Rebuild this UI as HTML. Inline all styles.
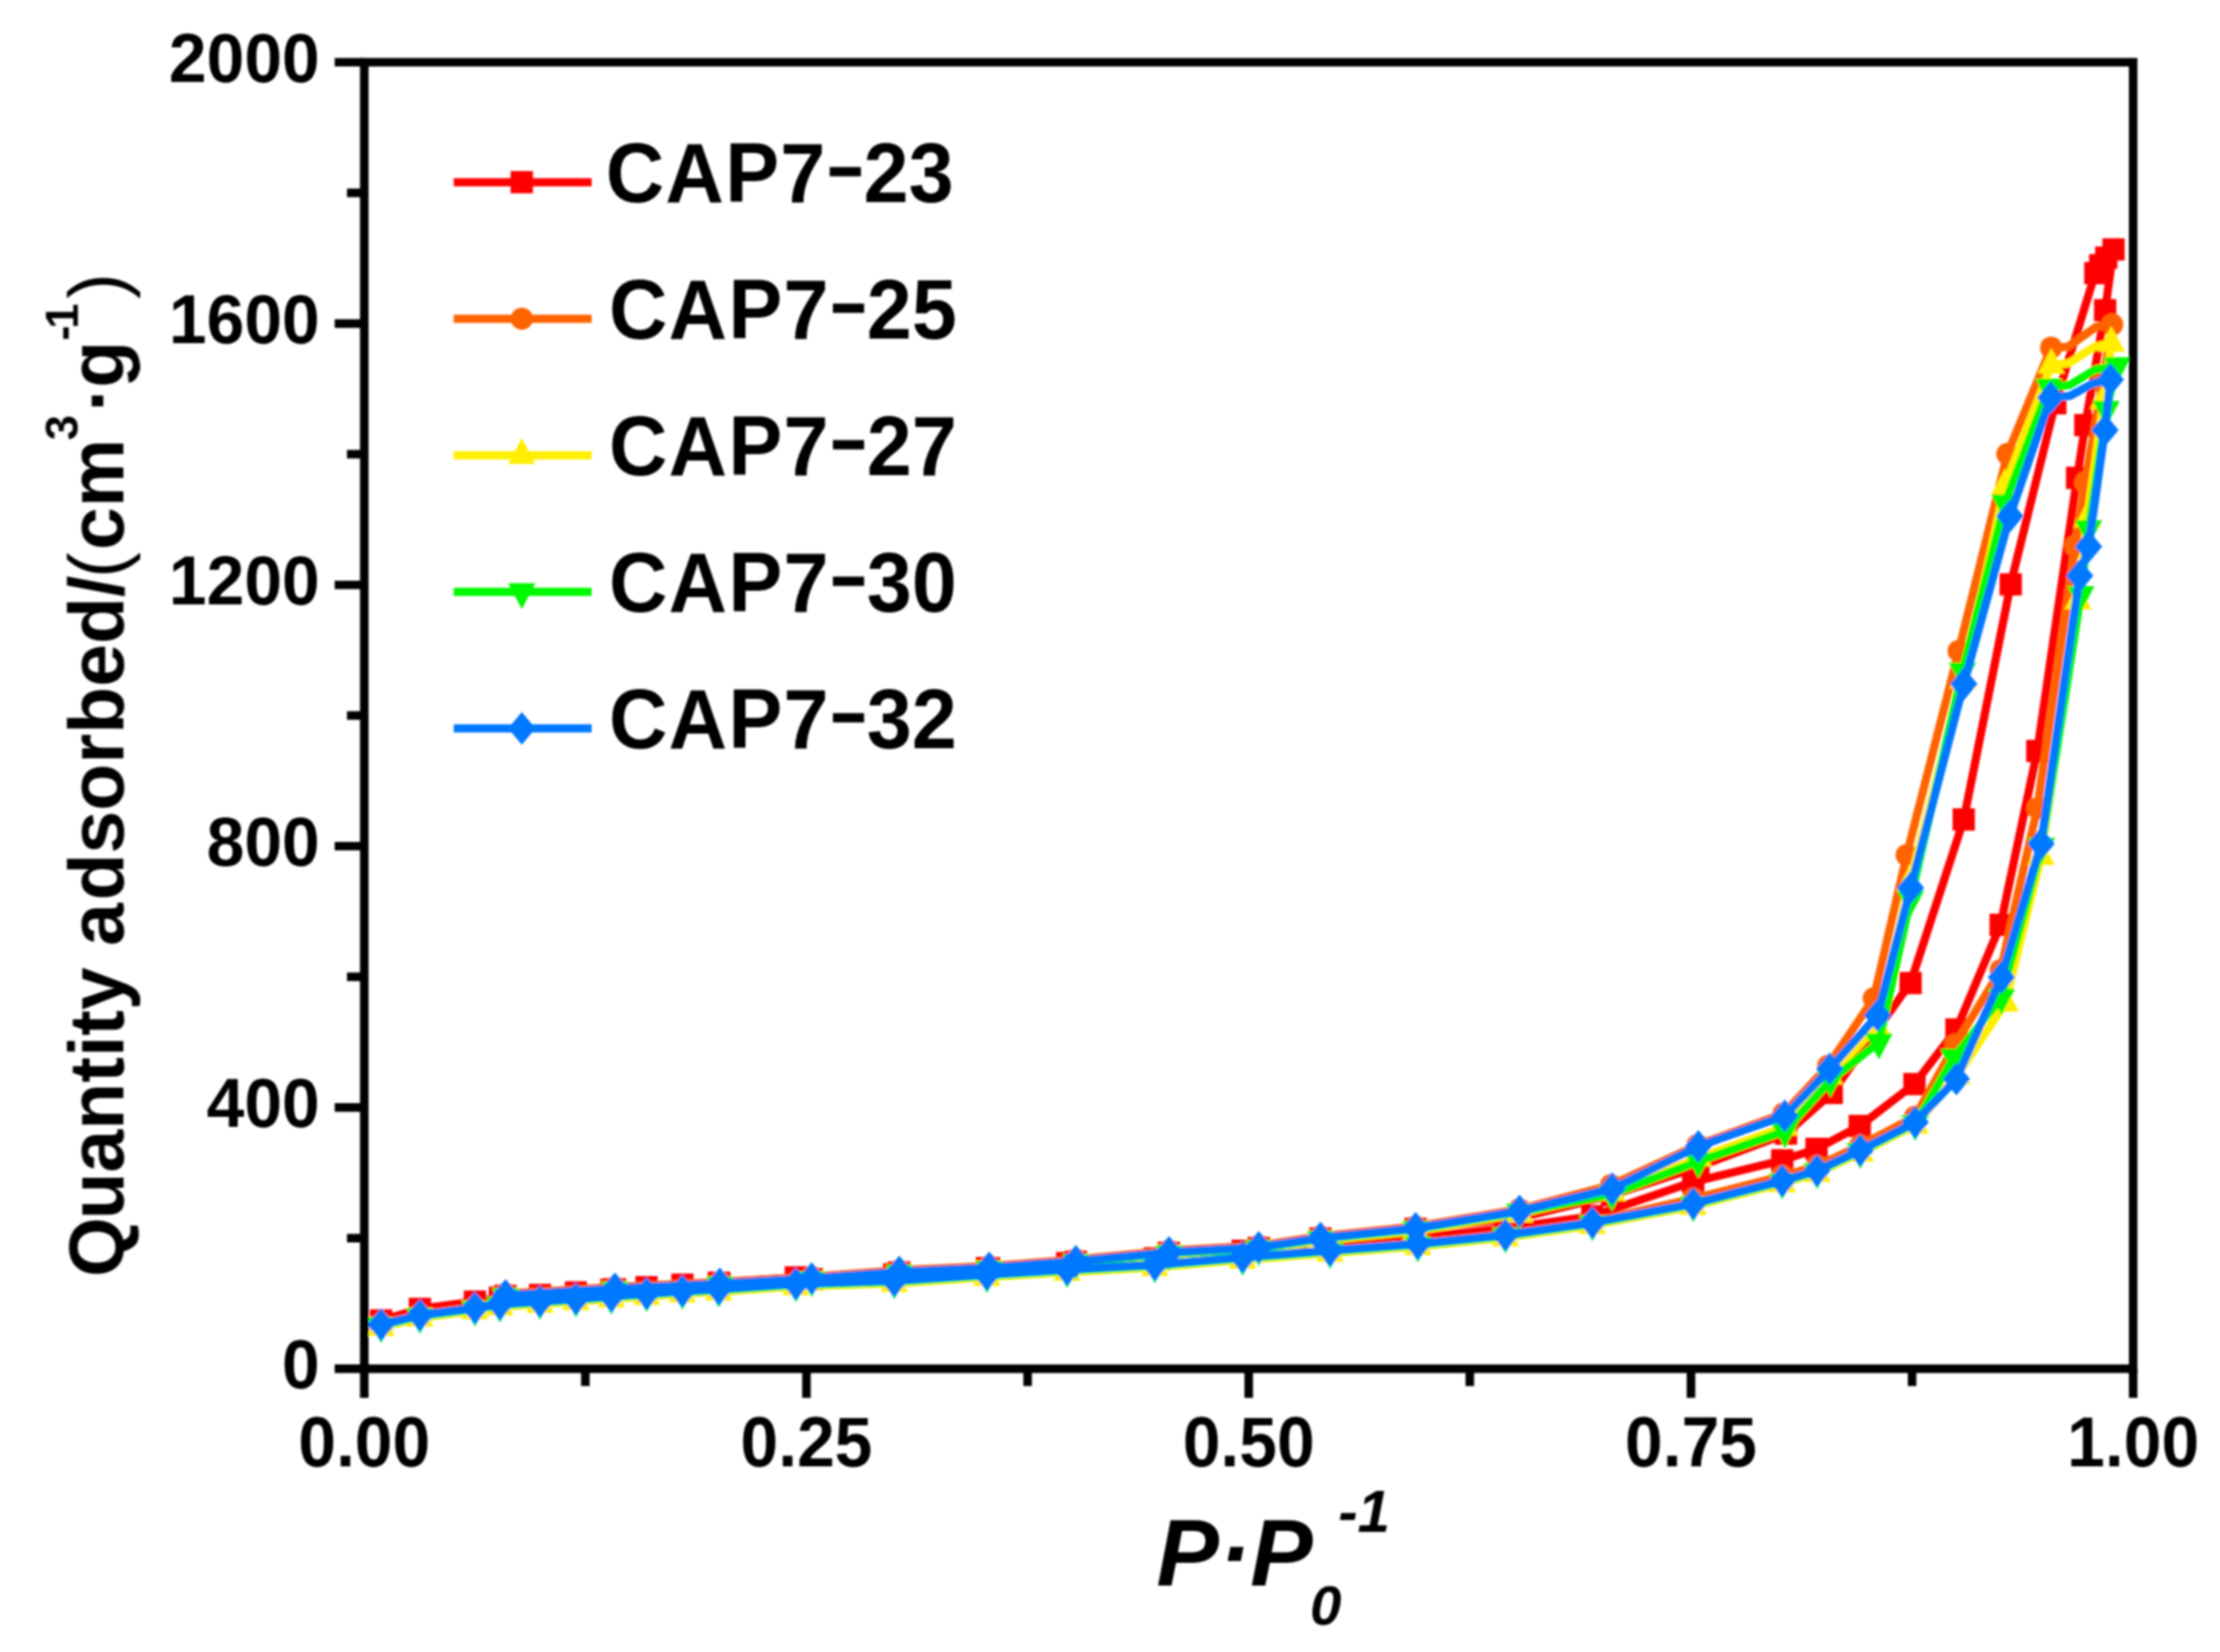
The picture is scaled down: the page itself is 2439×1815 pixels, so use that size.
<!DOCTYPE html>
<html lang="en">
<head>
<meta charset="utf-8">
<title>Nitrogen adsorption isotherms</title>
<style>
html,body{margin:0;padding:0;background:#fff;}
body{width:2439px;height:1815px;overflow:hidden;}
svg{display:block;}
</style>
</head>
<body>
<svg width="2439" height="1815" viewBox="0 0 2439 1815">
<defs><filter id="soft" x="-2%" y="-2%" width="104%" height="104%"><feGaussianBlur stdDeviation="0.9"/></filter></defs>
<rect width="2439" height="1815" fill="#ffffff"/>
<g filter="url(#soft)">
<g id="curves">
<polyline points="418.7,1450.8 461.3,1438.0 521.8,1430.0 549.2,1425.7 593.2,1422.8 632.8,1419.9 671.7,1417.0 710.4,1414.3 749.7,1411.5 789.7,1409.3 874.4,1403.5 982.5,1399.9 1084.3,1393.2 1172.4,1387.8 1268.8,1382.4 1365.2,1374.3 1461.3,1366.8 1557.7,1359.6 1654.0,1349.7 1749.5,1336.2 1860.3,1298.6 1958.1,1274.8 1995.8,1262.3 2043.2,1237.1 2103.3,1191.0 2149.4,1131.0 2197.9,1016.0 2238.3,825.0 2282.0,525.0 2291.0,467.0 2312.8,340.8 2322.0,274.0" fill="none" stroke="#ff0000" stroke-width="9.0" stroke-linejoin="round" stroke-linecap="round"/>
<polyline points="2322.0,274.0 2314.0,283.0 2307.5,291.5 2302.0,300.0 2258.0,443.0 2209.0,642.0 2157.5,900.4 2099.0,1080.0 2012.5,1200.8 1962.3,1245.5 1866.0,1282.0 1771.0,1313.0 1669.4,1338.0 1555.3,1350.0 1450.8,1360.8 1382.9,1371.0 1284.3,1376.4 1182.0,1386.3 1086.8,1393.5 988.0,1398.1 891.7,1405.3 790.8,1411.0 675.6,1416.6 555.4,1423.8" fill="none" stroke="#ff0000" stroke-width="9.0" stroke-linejoin="round" stroke-linecap="round"/>
<rect x="406.4" y="1438.5" width="24.5" height="24.5" fill="#ff0000"/>
<rect x="449.1" y="1425.8" width="24.5" height="24.5" fill="#ff0000"/>
<rect x="509.5" y="1417.8" width="24.5" height="24.5" fill="#ff0000"/>
<rect x="537.0" y="1413.5" width="24.5" height="24.5" fill="#ff0000"/>
<rect x="581.0" y="1410.5" width="24.5" height="24.5" fill="#ff0000"/>
<rect x="620.5" y="1407.7" width="24.5" height="24.5" fill="#ff0000"/>
<rect x="659.5" y="1404.8" width="24.5" height="24.5" fill="#ff0000"/>
<rect x="698.1" y="1402.0" width="24.5" height="24.5" fill="#ff0000"/>
<rect x="737.5" y="1399.2" width="24.5" height="24.5" fill="#ff0000"/>
<rect x="777.5" y="1397.0" width="24.5" height="24.5" fill="#ff0000"/>
<rect x="862.1" y="1391.2" width="24.5" height="24.5" fill="#ff0000"/>
<rect x="970.2" y="1387.7" width="24.5" height="24.5" fill="#ff0000"/>
<rect x="1072.0" y="1381.0" width="24.5" height="24.5" fill="#ff0000"/>
<rect x="1160.2" y="1375.5" width="24.5" height="24.5" fill="#ff0000"/>
<rect x="1256.5" y="1370.2" width="24.5" height="24.5" fill="#ff0000"/>
<rect x="1353.0" y="1362.0" width="24.5" height="24.5" fill="#ff0000"/>
<rect x="1449.0" y="1354.5" width="24.5" height="24.5" fill="#ff0000"/>
<rect x="1545.5" y="1347.3" width="24.5" height="24.5" fill="#ff0000"/>
<rect x="1641.8" y="1337.5" width="24.5" height="24.5" fill="#ff0000"/>
<rect x="1737.2" y="1324.0" width="24.5" height="24.5" fill="#ff0000"/>
<rect x="1848.0" y="1286.3" width="24.5" height="24.5" fill="#ff0000"/>
<rect x="1945.8" y="1262.5" width="24.5" height="24.5" fill="#ff0000"/>
<rect x="1983.5" y="1250.0" width="24.5" height="24.5" fill="#ff0000"/>
<rect x="2031.0" y="1224.8" width="24.5" height="24.5" fill="#ff0000"/>
<rect x="2091.1" y="1178.8" width="24.5" height="24.5" fill="#ff0000"/>
<rect x="2137.2" y="1118.8" width="24.5" height="24.5" fill="#ff0000"/>
<rect x="2185.7" y="1003.8" width="24.5" height="24.5" fill="#ff0000"/>
<rect x="2226.1" y="812.8" width="24.5" height="24.5" fill="#ff0000"/>
<rect x="2269.8" y="512.8" width="24.5" height="24.5" fill="#ff0000"/>
<rect x="2278.8" y="454.8" width="24.5" height="24.5" fill="#ff0000"/>
<rect x="2300.6" y="328.6" width="24.5" height="24.5" fill="#ff0000"/>
<rect x="2309.8" y="261.8" width="24.5" height="24.5" fill="#ff0000"/>
<rect x="2301.8" y="270.8" width="24.5" height="24.5" fill="#ff0000"/>
<rect x="2295.2" y="279.2" width="24.5" height="24.5" fill="#ff0000"/>
<rect x="2289.8" y="287.8" width="24.5" height="24.5" fill="#ff0000"/>
<rect x="2245.8" y="430.8" width="24.5" height="24.5" fill="#ff0000"/>
<rect x="2196.8" y="629.8" width="24.5" height="24.5" fill="#ff0000"/>
<rect x="2145.2" y="888.1" width="24.5" height="24.5" fill="#ff0000"/>
<rect x="2086.8" y="1067.8" width="24.5" height="24.5" fill="#ff0000"/>
<rect x="2000.2" y="1188.5" width="24.5" height="24.5" fill="#ff0000"/>
<rect x="1950.0" y="1233.2" width="24.5" height="24.5" fill="#ff0000"/>
<rect x="1853.8" y="1269.8" width="24.5" height="24.5" fill="#ff0000"/>
<rect x="1758.8" y="1300.8" width="24.5" height="24.5" fill="#ff0000"/>
<rect x="1657.2" y="1325.8" width="24.5" height="24.5" fill="#ff0000"/>
<rect x="1543.0" y="1337.8" width="24.5" height="24.5" fill="#ff0000"/>
<rect x="1438.5" y="1348.5" width="24.5" height="24.5" fill="#ff0000"/>
<rect x="1370.7" y="1358.8" width="24.5" height="24.5" fill="#ff0000"/>
<rect x="1272.0" y="1364.2" width="24.5" height="24.5" fill="#ff0000"/>
<rect x="1169.8" y="1374.0" width="24.5" height="24.5" fill="#ff0000"/>
<rect x="1074.5" y="1381.2" width="24.5" height="24.5" fill="#ff0000"/>
<rect x="975.8" y="1385.8" width="24.5" height="24.5" fill="#ff0000"/>
<rect x="879.5" y="1393.0" width="24.5" height="24.5" fill="#ff0000"/>
<rect x="778.5" y="1398.8" width="24.5" height="24.5" fill="#ff0000"/>
<rect x="663.4" y="1404.3" width="24.5" height="24.5" fill="#ff0000"/>
<rect x="543.1" y="1411.5" width="24.5" height="24.5" fill="#ff0000"/>
<polyline points="418.7,1454.3 461.3,1444.0 521.8,1436.0 549.2,1431.7 593.2,1428.8 632.8,1425.9 671.7,1423.0 710.4,1420.3 749.7,1417.5 789.7,1415.3 874.4,1409.5 982.5,1405.9 1084.3,1399.2 1172.4,1393.8 1268.8,1388.4 1365.2,1380.3 1461.3,1372.8 1557.7,1365.6 1654.0,1355.7 1749.5,1342.2 1860.3,1317.0 1958.1,1292.0 1996.3,1281.0 2043.8,1258.5 2104.0,1227.0 2148.0,1147.7 2198.0,1066.0 2238.3,887.9 2280.0,600.0 2291.0,530.0 2310.0,420.0 2320.5,356.5" fill="none" stroke="#ff6400" stroke-width="9.0" stroke-linejoin="round" stroke-linecap="round"/>
<polyline points="2320.5,356.5 2303.0,359.0 2272.0,381.0 2253.5,382.0 2205.4,498.8 2151.9,715.2 2094.8,939.4 2058.6,1096.8 2008.5,1171.0 1959.5,1223.5 1865.0,1258.0 1770.0,1302.0 1669.4,1328.5 1555.3,1347.5 1450.8,1358.3 1382.9,1368.5 1284.3,1373.9 1182.0,1383.8 1086.8,1391.0 988.0,1395.6 891.7,1402.8 790.8,1408.5 675.6,1414.1 555.4,1421.3" fill="none" stroke="#ff6400" stroke-width="9.0" stroke-linejoin="round" stroke-linecap="round"/>
<circle cx="418.7" cy="1454.3" r="12.2" fill="#ff6400"/>
<circle cx="461.3" cy="1444.0" r="12.2" fill="#ff6400"/>
<circle cx="521.8" cy="1436.0" r="12.2" fill="#ff6400"/>
<circle cx="549.2" cy="1431.7" r="12.2" fill="#ff6400"/>
<circle cx="593.2" cy="1428.8" r="12.2" fill="#ff6400"/>
<circle cx="632.8" cy="1425.9" r="12.2" fill="#ff6400"/>
<circle cx="671.7" cy="1423.0" r="12.2" fill="#ff6400"/>
<circle cx="710.4" cy="1420.3" r="12.2" fill="#ff6400"/>
<circle cx="749.7" cy="1417.5" r="12.2" fill="#ff6400"/>
<circle cx="789.7" cy="1415.3" r="12.2" fill="#ff6400"/>
<circle cx="874.4" cy="1409.5" r="12.2" fill="#ff6400"/>
<circle cx="982.5" cy="1405.9" r="12.2" fill="#ff6400"/>
<circle cx="1084.3" cy="1399.2" r="12.2" fill="#ff6400"/>
<circle cx="1172.4" cy="1393.8" r="12.2" fill="#ff6400"/>
<circle cx="1268.8" cy="1388.4" r="12.2" fill="#ff6400"/>
<circle cx="1365.2" cy="1380.3" r="12.2" fill="#ff6400"/>
<circle cx="1461.3" cy="1372.8" r="12.2" fill="#ff6400"/>
<circle cx="1557.7" cy="1365.6" r="12.2" fill="#ff6400"/>
<circle cx="1654.0" cy="1355.7" r="12.2" fill="#ff6400"/>
<circle cx="1749.5" cy="1342.2" r="12.2" fill="#ff6400"/>
<circle cx="1860.3" cy="1317.0" r="12.2" fill="#ff6400"/>
<circle cx="1958.1" cy="1292.0" r="12.2" fill="#ff6400"/>
<circle cx="1996.3" cy="1281.0" r="12.2" fill="#ff6400"/>
<circle cx="2043.8" cy="1258.5" r="12.2" fill="#ff6400"/>
<circle cx="2104.0" cy="1227.0" r="12.2" fill="#ff6400"/>
<circle cx="2148.0" cy="1147.7" r="12.2" fill="#ff6400"/>
<circle cx="2198.0" cy="1066.0" r="12.2" fill="#ff6400"/>
<circle cx="2238.3" cy="887.9" r="12.2" fill="#ff6400"/>
<circle cx="2280.0" cy="600.0" r="12.2" fill="#ff6400"/>
<circle cx="2291.0" cy="530.0" r="12.2" fill="#ff6400"/>
<circle cx="2310.0" cy="420.0" r="12.2" fill="#ff6400"/>
<circle cx="2320.5" cy="356.5" r="12.2" fill="#ff6400"/>
<circle cx="2253.5" cy="382.0" r="12.2" fill="#ff6400"/>
<circle cx="2205.4" cy="498.8" r="12.2" fill="#ff6400"/>
<circle cx="2151.9" cy="715.2" r="12.2" fill="#ff6400"/>
<circle cx="2094.8" cy="939.4" r="12.2" fill="#ff6400"/>
<circle cx="2058.6" cy="1096.8" r="12.2" fill="#ff6400"/>
<circle cx="2008.5" cy="1171.0" r="12.2" fill="#ff6400"/>
<circle cx="1959.5" cy="1223.5" r="12.2" fill="#ff6400"/>
<circle cx="1865.0" cy="1258.0" r="12.2" fill="#ff6400"/>
<circle cx="1770.0" cy="1302.0" r="12.2" fill="#ff6400"/>
<circle cx="1669.4" cy="1328.5" r="12.2" fill="#ff6400"/>
<circle cx="1555.3" cy="1347.5" r="12.2" fill="#ff6400"/>
<circle cx="1450.8" cy="1358.3" r="12.2" fill="#ff6400"/>
<circle cx="1382.9" cy="1368.5" r="12.2" fill="#ff6400"/>
<circle cx="1284.3" cy="1373.9" r="12.2" fill="#ff6400"/>
<circle cx="1182.0" cy="1383.8" r="12.2" fill="#ff6400"/>
<circle cx="1086.8" cy="1391.0" r="12.2" fill="#ff6400"/>
<circle cx="988.0" cy="1395.6" r="12.2" fill="#ff6400"/>
<circle cx="891.7" cy="1402.8" r="12.2" fill="#ff6400"/>
<circle cx="790.8" cy="1408.5" r="12.2" fill="#ff6400"/>
<circle cx="675.6" cy="1414.1" r="12.2" fill="#ff6400"/>
<circle cx="555.4" cy="1421.3" r="12.2" fill="#ff6400"/>
<polyline points="418.7,1458.3 461.3,1448.0 521.8,1440.0 549.2,1435.7 593.2,1432.8 632.8,1429.9 671.7,1427.0 710.4,1424.3 749.7,1421.5 789.7,1419.3 874.4,1413.5 982.5,1409.9 1084.3,1403.2 1172.4,1397.8 1268.8,1392.4 1365.2,1384.3 1461.3,1376.8 1557.7,1369.6 1654.0,1359.7 1749.5,1346.2 1860.3,1325.3 1958.1,1300.2 1996.3,1289.0 2043.8,1266.7 2104.1,1235.9 2150.0,1182.0 2203.0,1102.0 2242.4,940.8 2283.0,660.0 2293.0,570.0 2311.0,440.0 2319.6,377.0" fill="none" stroke="#ffee00" stroke-width="9.0" stroke-linejoin="round" stroke-linecap="round"/>
<polyline points="2319.6,377.0 2301.0,381.0 2273.0,399.0 2253.7,401.0 2202.6,533.7 2156.5,747.0 2098.0,970.0 2062.0,1128.0 2010.0,1182.0 1960.5,1238.0 1866.0,1272.0 1771.0,1310.0 1669.4,1333.5 1555.3,1352.5 1450.8,1363.3 1382.9,1373.5 1284.3,1378.9 1182.0,1388.8 1086.8,1396.0 988.0,1400.6 891.7,1407.8 790.8,1413.5 675.6,1419.1 555.4,1426.3" fill="none" stroke="#ffee00" stroke-width="9.0" stroke-linejoin="round" stroke-linecap="round"/>
<polygon points="418.7,1439.3 433.7,1467.8 403.7,1467.8" fill="#ffee00"/>
<polygon points="461.3,1429.0 476.3,1457.5 446.3,1457.5" fill="#ffee00"/>
<polygon points="521.8,1421.0 536.8,1449.5 506.8,1449.5" fill="#ffee00"/>
<polygon points="549.2,1416.7 564.2,1445.2 534.2,1445.2" fill="#ffee00"/>
<polygon points="593.2,1413.8 608.2,1442.3 578.2,1442.3" fill="#ffee00"/>
<polygon points="632.8,1410.9 647.8,1439.4 617.8,1439.4" fill="#ffee00"/>
<polygon points="671.7,1408.0 686.7,1436.5 656.7,1436.5" fill="#ffee00"/>
<polygon points="710.4,1405.3 725.4,1433.8 695.4,1433.8" fill="#ffee00"/>
<polygon points="749.7,1402.5 764.7,1431.0 734.7,1431.0" fill="#ffee00"/>
<polygon points="789.7,1400.3 804.7,1428.8 774.7,1428.8" fill="#ffee00"/>
<polygon points="874.4,1394.5 889.4,1423.0 859.4,1423.0" fill="#ffee00"/>
<polygon points="982.5,1390.9 997.5,1419.4 967.5,1419.4" fill="#ffee00"/>
<polygon points="1084.3,1384.2 1099.3,1412.7 1069.3,1412.7" fill="#ffee00"/>
<polygon points="1172.4,1378.8 1187.4,1407.3 1157.4,1407.3" fill="#ffee00"/>
<polygon points="1268.8,1373.4 1283.8,1401.9 1253.8,1401.9" fill="#ffee00"/>
<polygon points="1365.2,1365.3 1380.2,1393.8 1350.2,1393.8" fill="#ffee00"/>
<polygon points="1461.3,1357.8 1476.3,1386.3 1446.3,1386.3" fill="#ffee00"/>
<polygon points="1557.7,1350.6 1572.7,1379.1 1542.7,1379.1" fill="#ffee00"/>
<polygon points="1654.0,1340.7 1669.0,1369.2 1639.0,1369.2" fill="#ffee00"/>
<polygon points="1749.5,1327.2 1764.5,1355.7 1734.5,1355.7" fill="#ffee00"/>
<polygon points="1860.3,1306.3 1875.3,1334.8 1845.3,1334.8" fill="#ffee00"/>
<polygon points="1958.1,1281.2 1973.1,1309.7 1943.1,1309.7" fill="#ffee00"/>
<polygon points="1996.3,1270.0 2011.3,1298.5 1981.3,1298.5" fill="#ffee00"/>
<polygon points="2043.8,1247.7 2058.8,1276.2 2028.8,1276.2" fill="#ffee00"/>
<polygon points="2104.1,1216.9 2119.1,1245.4 2089.1,1245.4" fill="#ffee00"/>
<polygon points="2150.0,1163.0 2165.0,1191.5 2135.0,1191.5" fill="#ffee00"/>
<polygon points="2203.0,1083.0 2218.0,1111.5 2188.0,1111.5" fill="#ffee00"/>
<polygon points="2242.4,921.8 2257.4,950.3 2227.4,950.3" fill="#ffee00"/>
<polygon points="2283.0,641.0 2298.0,669.5 2268.0,669.5" fill="#ffee00"/>
<polygon points="2293.0,551.0 2308.0,579.5 2278.0,579.5" fill="#ffee00"/>
<polygon points="2311.0,421.0 2326.0,449.5 2296.0,449.5" fill="#ffee00"/>
<polygon points="2319.6,358.0 2334.6,386.5 2304.6,386.5" fill="#ffee00"/>
<polygon points="2253.7,382.0 2268.7,410.5 2238.7,410.5" fill="#ffee00"/>
<polygon points="2202.6,514.7 2217.6,543.2 2187.6,543.2" fill="#ffee00"/>
<polygon points="2156.5,728.0 2171.5,756.5 2141.5,756.5" fill="#ffee00"/>
<polygon points="2098.0,951.0 2113.0,979.5 2083.0,979.5" fill="#ffee00"/>
<polygon points="2062.0,1109.0 2077.0,1137.5 2047.0,1137.5" fill="#ffee00"/>
<polygon points="2010.0,1163.0 2025.0,1191.5 1995.0,1191.5" fill="#ffee00"/>
<polygon points="1960.5,1219.0 1975.5,1247.5 1945.5,1247.5" fill="#ffee00"/>
<polygon points="1866.0,1253.0 1881.0,1281.5 1851.0,1281.5" fill="#ffee00"/>
<polygon points="1771.0,1291.0 1786.0,1319.5 1756.0,1319.5" fill="#ffee00"/>
<polygon points="1669.4,1314.5 1684.4,1343.0 1654.4,1343.0" fill="#ffee00"/>
<polygon points="1555.3,1333.5 1570.3,1362.0 1540.3,1362.0" fill="#ffee00"/>
<polygon points="1450.8,1344.3 1465.8,1372.8 1435.8,1372.8" fill="#ffee00"/>
<polygon points="1382.9,1354.5 1397.9,1383.0 1367.9,1383.0" fill="#ffee00"/>
<polygon points="1284.3,1359.9 1299.3,1388.4 1269.3,1388.4" fill="#ffee00"/>
<polygon points="1182.0,1369.8 1197.0,1398.3 1167.0,1398.3" fill="#ffee00"/>
<polygon points="1086.8,1377.0 1101.8,1405.5 1071.8,1405.5" fill="#ffee00"/>
<polygon points="988.0,1381.6 1003.0,1410.1 973.0,1410.1" fill="#ffee00"/>
<polygon points="891.7,1388.8 906.7,1417.3 876.7,1417.3" fill="#ffee00"/>
<polygon points="790.8,1394.5 805.8,1423.0 775.8,1423.0" fill="#ffee00"/>
<polygon points="675.6,1400.1 690.6,1428.6 660.6,1428.6" fill="#ffee00"/>
<polygon points="555.4,1407.3 570.4,1435.8 540.4,1435.8" fill="#ffee00"/>
<polyline points="418.7,1456.8 461.3,1446.5 521.8,1438.5 549.2,1434.2 593.2,1431.3 632.8,1428.4 671.7,1425.5 710.4,1422.8 749.7,1420.0 789.7,1417.8 874.4,1412.0 982.5,1408.4 1084.3,1401.7 1172.4,1396.3 1268.8,1390.9 1365.2,1382.8 1461.3,1375.3 1557.7,1368.1 1654.0,1358.2 1749.5,1344.7 1860.3,1323.8 1958.1,1298.7 1996.3,1287.5 2043.8,1265.2 2104.1,1234.4 2146.6,1161.7 2198.8,1096.0 2243.0,930.0 2286.1,653.4 2294.5,581.0 2314.0,450.0 2326.0,402.0" fill="none" stroke="#00f800" stroke-width="9.0" stroke-linejoin="round" stroke-linecap="round"/>
<polyline points="2326.0,402.0 2302.0,406.0 2274.0,423.0 2251.0,425.5 2202.6,553.1 2156.1,737.5 2099.0,988.1 2064.2,1145.0 2011.0,1187.0 1960.9,1242.7 1866.0,1276.0 1771.0,1312.0 1669.4,1332.0 1555.3,1351.0 1450.8,1361.8 1382.9,1372.0 1284.3,1377.4 1182.0,1387.3 1086.8,1394.5 988.0,1399.1 891.7,1406.3 790.8,1412.0 675.6,1417.6 555.4,1424.8" fill="none" stroke="#00f800" stroke-width="9.0" stroke-linejoin="round" stroke-linecap="round"/>
<polygon points="418.7,1475.8 433.7,1447.3 403.7,1447.3" fill="#00f800"/>
<polygon points="461.3,1465.5 476.3,1437.0 446.3,1437.0" fill="#00f800"/>
<polygon points="521.8,1457.5 536.8,1429.0 506.8,1429.0" fill="#00f800"/>
<polygon points="549.2,1453.2 564.2,1424.7 534.2,1424.7" fill="#00f800"/>
<polygon points="593.2,1450.3 608.2,1421.8 578.2,1421.8" fill="#00f800"/>
<polygon points="632.8,1447.4 647.8,1418.9 617.8,1418.9" fill="#00f800"/>
<polygon points="671.7,1444.5 686.7,1416.0 656.7,1416.0" fill="#00f800"/>
<polygon points="710.4,1441.8 725.4,1413.3 695.4,1413.3" fill="#00f800"/>
<polygon points="749.7,1439.0 764.7,1410.5 734.7,1410.5" fill="#00f800"/>
<polygon points="789.7,1436.8 804.7,1408.3 774.7,1408.3" fill="#00f800"/>
<polygon points="874.4,1431.0 889.4,1402.5 859.4,1402.5" fill="#00f800"/>
<polygon points="982.5,1427.4 997.5,1398.9 967.5,1398.9" fill="#00f800"/>
<polygon points="1084.3,1420.7 1099.3,1392.2 1069.3,1392.2" fill="#00f800"/>
<polygon points="1172.4,1415.3 1187.4,1386.8 1157.4,1386.8" fill="#00f800"/>
<polygon points="1268.8,1409.9 1283.8,1381.4 1253.8,1381.4" fill="#00f800"/>
<polygon points="1365.2,1401.8 1380.2,1373.3 1350.2,1373.3" fill="#00f800"/>
<polygon points="1461.3,1394.3 1476.3,1365.8 1446.3,1365.8" fill="#00f800"/>
<polygon points="1557.7,1387.1 1572.7,1358.6 1542.7,1358.6" fill="#00f800"/>
<polygon points="1654.0,1377.2 1669.0,1348.7 1639.0,1348.7" fill="#00f800"/>
<polygon points="1749.5,1363.7 1764.5,1335.2 1734.5,1335.2" fill="#00f800"/>
<polygon points="1860.3,1342.8 1875.3,1314.3 1845.3,1314.3" fill="#00f800"/>
<polygon points="1958.1,1317.7 1973.1,1289.2 1943.1,1289.2" fill="#00f800"/>
<polygon points="1996.3,1306.5 2011.3,1278.0 1981.3,1278.0" fill="#00f800"/>
<polygon points="2043.8,1284.2 2058.8,1255.7 2028.8,1255.7" fill="#00f800"/>
<polygon points="2104.1,1253.4 2119.1,1224.9 2089.1,1224.9" fill="#00f800"/>
<polygon points="2146.6,1180.7 2161.6,1152.2 2131.6,1152.2" fill="#00f800"/>
<polygon points="2198.8,1115.0 2213.8,1086.5 2183.8,1086.5" fill="#00f800"/>
<polygon points="2243.0,949.0 2258.0,920.5 2228.0,920.5" fill="#00f800"/>
<polygon points="2286.1,672.4 2301.1,643.9 2271.1,643.9" fill="#00f800"/>
<polygon points="2294.5,600.0 2309.5,571.5 2279.5,571.5" fill="#00f800"/>
<polygon points="2314.0,469.0 2329.0,440.5 2299.0,440.5" fill="#00f800"/>
<polygon points="2326.0,421.0 2341.0,392.5 2311.0,392.5" fill="#00f800"/>
<polygon points="2251.0,444.5 2266.0,416.0 2236.0,416.0" fill="#00f800"/>
<polygon points="2202.6,572.1 2217.6,543.6 2187.6,543.6" fill="#00f800"/>
<polygon points="2156.1,756.5 2171.1,728.0 2141.1,728.0" fill="#00f800"/>
<polygon points="2099.0,1007.1 2114.0,978.6 2084.0,978.6" fill="#00f800"/>
<polygon points="2064.2,1164.0 2079.2,1135.5 2049.2,1135.5" fill="#00f800"/>
<polygon points="2011.0,1206.0 2026.0,1177.5 1996.0,1177.5" fill="#00f800"/>
<polygon points="1960.9,1261.7 1975.9,1233.2 1945.9,1233.2" fill="#00f800"/>
<polygon points="1866.0,1295.0 1881.0,1266.5 1851.0,1266.5" fill="#00f800"/>
<polygon points="1771.0,1331.0 1786.0,1302.5 1756.0,1302.5" fill="#00f800"/>
<polygon points="1669.4,1351.0 1684.4,1322.5 1654.4,1322.5" fill="#00f800"/>
<polygon points="1555.3,1370.0 1570.3,1341.5 1540.3,1341.5" fill="#00f800"/>
<polygon points="1450.8,1380.8 1465.8,1352.3 1435.8,1352.3" fill="#00f800"/>
<polygon points="1382.9,1391.0 1397.9,1362.5 1367.9,1362.5" fill="#00f800"/>
<polygon points="1284.3,1396.4 1299.3,1367.9 1269.3,1367.9" fill="#00f800"/>
<polygon points="1182.0,1406.3 1197.0,1377.8 1167.0,1377.8" fill="#00f800"/>
<polygon points="1086.8,1413.5 1101.8,1385.0 1071.8,1385.0" fill="#00f800"/>
<polygon points="988.0,1418.1 1003.0,1389.6 973.0,1389.6" fill="#00f800"/>
<polygon points="891.7,1425.3 906.7,1396.8 876.7,1396.8" fill="#00f800"/>
<polygon points="790.8,1431.0 805.8,1402.5 775.8,1402.5" fill="#00f800"/>
<polygon points="675.6,1436.6 690.6,1408.1 660.6,1408.1" fill="#00f800"/>
<polygon points="555.4,1443.8 570.4,1415.3 540.4,1415.3" fill="#00f800"/>
<polyline points="418.7,1455.3 461.3,1445.0 521.8,1437.0 549.2,1432.7 593.2,1429.8 632.8,1426.9 671.7,1424.0 710.4,1421.3 749.7,1418.5 789.7,1416.3 874.4,1410.5 982.5,1406.9 1084.3,1400.2 1172.4,1394.8 1268.8,1389.4 1365.2,1381.3 1461.3,1373.8 1557.7,1366.6 1654.0,1356.7 1749.5,1343.2 1860.3,1322.3 1958.1,1297.2 1996.3,1286.0 2043.8,1263.7 2104.1,1232.9 2149.4,1185.5 2198.8,1073.7 2242.4,926.9 2284.8,632.5 2294.5,600.5 2312.6,472.4 2318.5,417.0" fill="none" stroke="#0078ff" stroke-width="9.0" stroke-linejoin="round" stroke-linecap="round"/>
<polyline points="2318.5,417.0 2300.0,421.0 2274.0,435.0 2253.0,436.8 2208.1,567.1 2157.5,751.4 2099.0,975.6 2062.8,1115.6 2010.3,1174.3 1960.9,1226.0 1865.9,1259.5 1771.2,1306.0 1669.4,1330.5 1555.3,1349.5 1450.8,1360.3 1382.9,1370.5 1284.3,1375.9 1182.0,1385.8 1086.8,1393.0 988.0,1397.6 891.7,1404.8 790.8,1410.5 675.6,1416.1 555.4,1423.3" fill="none" stroke="#0078ff" stroke-width="9.0" stroke-linejoin="round" stroke-linecap="round"/>
<polygon points="418.7,1437.3 433.7,1455.3 418.7,1473.3 403.7,1455.3" fill="#0078ff"/>
<polygon points="461.3,1427.0 476.3,1445.0 461.3,1463.0 446.3,1445.0" fill="#0078ff"/>
<polygon points="521.8,1419.0 536.8,1437.0 521.8,1455.0 506.8,1437.0" fill="#0078ff"/>
<polygon points="549.2,1414.7 564.2,1432.7 549.2,1450.7 534.2,1432.7" fill="#0078ff"/>
<polygon points="593.2,1411.8 608.2,1429.8 593.2,1447.8 578.2,1429.8" fill="#0078ff"/>
<polygon points="632.8,1408.9 647.8,1426.9 632.8,1444.9 617.8,1426.9" fill="#0078ff"/>
<polygon points="671.7,1406.0 686.7,1424.0 671.7,1442.0 656.7,1424.0" fill="#0078ff"/>
<polygon points="710.4,1403.3 725.4,1421.3 710.4,1439.3 695.4,1421.3" fill="#0078ff"/>
<polygon points="749.7,1400.5 764.7,1418.5 749.7,1436.5 734.7,1418.5" fill="#0078ff"/>
<polygon points="789.7,1398.3 804.7,1416.3 789.7,1434.3 774.7,1416.3" fill="#0078ff"/>
<polygon points="874.4,1392.5 889.4,1410.5 874.4,1428.5 859.4,1410.5" fill="#0078ff"/>
<polygon points="982.5,1388.9 997.5,1406.9 982.5,1424.9 967.5,1406.9" fill="#0078ff"/>
<polygon points="1084.3,1382.2 1099.3,1400.2 1084.3,1418.2 1069.3,1400.2" fill="#0078ff"/>
<polygon points="1172.4,1376.8 1187.4,1394.8 1172.4,1412.8 1157.4,1394.8" fill="#0078ff"/>
<polygon points="1268.8,1371.4 1283.8,1389.4 1268.8,1407.4 1253.8,1389.4" fill="#0078ff"/>
<polygon points="1365.2,1363.3 1380.2,1381.3 1365.2,1399.3 1350.2,1381.3" fill="#0078ff"/>
<polygon points="1461.3,1355.8 1476.3,1373.8 1461.3,1391.8 1446.3,1373.8" fill="#0078ff"/>
<polygon points="1557.7,1348.6 1572.7,1366.6 1557.7,1384.6 1542.7,1366.6" fill="#0078ff"/>
<polygon points="1654.0,1338.7 1669.0,1356.7 1654.0,1374.7 1639.0,1356.7" fill="#0078ff"/>
<polygon points="1749.5,1325.2 1764.5,1343.2 1749.5,1361.2 1734.5,1343.2" fill="#0078ff"/>
<polygon points="1860.3,1304.3 1875.3,1322.3 1860.3,1340.3 1845.3,1322.3" fill="#0078ff"/>
<polygon points="1958.1,1279.2 1973.1,1297.2 1958.1,1315.2 1943.1,1297.2" fill="#0078ff"/>
<polygon points="1996.3,1268.0 2011.3,1286.0 1996.3,1304.0 1981.3,1286.0" fill="#0078ff"/>
<polygon points="2043.8,1245.7 2058.8,1263.7 2043.8,1281.7 2028.8,1263.7" fill="#0078ff"/>
<polygon points="2104.1,1214.9 2119.1,1232.9 2104.1,1250.9 2089.1,1232.9" fill="#0078ff"/>
<polygon points="2149.4,1167.5 2164.4,1185.5 2149.4,1203.5 2134.4,1185.5" fill="#0078ff"/>
<polygon points="2198.8,1055.7 2213.8,1073.7 2198.8,1091.7 2183.8,1073.7" fill="#0078ff"/>
<polygon points="2242.4,908.9 2257.4,926.9 2242.4,944.9 2227.4,926.9" fill="#0078ff"/>
<polygon points="2284.8,614.5 2299.8,632.5 2284.8,650.5 2269.8,632.5" fill="#0078ff"/>
<polygon points="2294.5,582.5 2309.5,600.5 2294.5,618.5 2279.5,600.5" fill="#0078ff"/>
<polygon points="2312.6,454.4 2327.6,472.4 2312.6,490.4 2297.6,472.4" fill="#0078ff"/>
<polygon points="2318.5,399.0 2333.5,417.0 2318.5,435.0 2303.5,417.0" fill="#0078ff"/>
<polygon points="2253.0,418.8 2268.0,436.8 2253.0,454.8 2238.0,436.8" fill="#0078ff"/>
<polygon points="2208.1,549.1 2223.1,567.1 2208.1,585.1 2193.1,567.1" fill="#0078ff"/>
<polygon points="2157.5,733.4 2172.5,751.4 2157.5,769.4 2142.5,751.4" fill="#0078ff"/>
<polygon points="2099.0,957.6 2114.0,975.6 2099.0,993.6 2084.0,975.6" fill="#0078ff"/>
<polygon points="2062.8,1097.6 2077.8,1115.6 2062.8,1133.6 2047.8,1115.6" fill="#0078ff"/>
<polygon points="2010.3,1156.3 2025.3,1174.3 2010.3,1192.3 1995.3,1174.3" fill="#0078ff"/>
<polygon points="1960.9,1208.0 1975.9,1226.0 1960.9,1244.0 1945.9,1226.0" fill="#0078ff"/>
<polygon points="1865.9,1241.5 1880.9,1259.5 1865.9,1277.5 1850.9,1259.5" fill="#0078ff"/>
<polygon points="1771.2,1288.0 1786.2,1306.0 1771.2,1324.0 1756.2,1306.0" fill="#0078ff"/>
<polygon points="1669.4,1312.5 1684.4,1330.5 1669.4,1348.5 1654.4,1330.5" fill="#0078ff"/>
<polygon points="1555.3,1331.5 1570.3,1349.5 1555.3,1367.5 1540.3,1349.5" fill="#0078ff"/>
<polygon points="1450.8,1342.3 1465.8,1360.3 1450.8,1378.3 1435.8,1360.3" fill="#0078ff"/>
<polygon points="1382.9,1352.5 1397.9,1370.5 1382.9,1388.5 1367.9,1370.5" fill="#0078ff"/>
<polygon points="1284.3,1357.9 1299.3,1375.9 1284.3,1393.9 1269.3,1375.9" fill="#0078ff"/>
<polygon points="1182.0,1367.8 1197.0,1385.8 1182.0,1403.8 1167.0,1385.8" fill="#0078ff"/>
<polygon points="1086.8,1375.0 1101.8,1393.0 1086.8,1411.0 1071.8,1393.0" fill="#0078ff"/>
<polygon points="988.0,1379.6 1003.0,1397.6 988.0,1415.6 973.0,1397.6" fill="#0078ff"/>
<polygon points="891.7,1386.8 906.7,1404.8 891.7,1422.8 876.7,1404.8" fill="#0078ff"/>
<polygon points="790.8,1392.5 805.8,1410.5 790.8,1428.5 775.8,1410.5" fill="#0078ff"/>
<polygon points="675.6,1398.1 690.6,1416.1 675.6,1434.1 660.6,1416.1" fill="#0078ff"/>
<polygon points="555.4,1405.3 570.4,1423.3 555.4,1441.3 540.4,1423.3" fill="#0078ff"/>
</g>
<g stroke="#000" stroke-width="9.4" fill="none" stroke-linecap="butt">
<rect x="400.2" y="68.4" width="1943.4" height="1435.4"/>
<line x1="367.7" y1="1503.8" x2="400.2" y2="1503.8"/>
<line x1="381.2" y1="1360.3" x2="400.2" y2="1360.3"/>
<line x1="367.7" y1="1216.7" x2="400.2" y2="1216.7"/>
<line x1="381.2" y1="1073.2" x2="400.2" y2="1073.2"/>
<line x1="367.7" y1="929.6" x2="400.2" y2="929.6"/>
<line x1="381.2" y1="786.1" x2="400.2" y2="786.1"/>
<line x1="367.7" y1="642.6" x2="400.2" y2="642.6"/>
<line x1="381.2" y1="499.0" x2="400.2" y2="499.0"/>
<line x1="367.7" y1="355.5" x2="400.2" y2="355.5"/>
<line x1="381.2" y1="211.9" x2="400.2" y2="211.9"/>
<line x1="367.7" y1="68.4" x2="400.2" y2="68.4"/>
<line x1="400.2" y1="1503.8" x2="400.2" y2="1535.8"/>
<line x1="643.1" y1="1503.8" x2="643.1" y2="1522.8"/>
<line x1="886.0" y1="1503.8" x2="886.0" y2="1535.8"/>
<line x1="1129.0" y1="1503.8" x2="1129.0" y2="1522.8"/>
<line x1="1371.9" y1="1503.8" x2="1371.9" y2="1535.8"/>
<line x1="1614.8" y1="1503.8" x2="1614.8" y2="1522.8"/>
<line x1="1857.8" y1="1503.8" x2="1857.8" y2="1535.8"/>
<line x1="2100.7" y1="1503.8" x2="2100.7" y2="1522.8"/>
<line x1="2343.6" y1="1503.8" x2="2343.6" y2="1535.8"/>
</g>
<g font-family="'Liberation Sans', Arial, Helvetica, sans-serif" font-weight="bold" fill="#000">
<g font-size="74.5" text-anchor="end">
<text transform="translate(351.3,1525.2) scale(1,1.03)">0</text>
<text transform="translate(351.3,1238.1) scale(1,1.03)">400</text>
<text transform="translate(351.3,951.0) scale(1,1.03)">800</text>
<text transform="translate(351.3,664.0) scale(1,1.03)">1200</text>
<text transform="translate(351.3,376.9) scale(1,1.03)">1600</text>
<text transform="translate(351.3,89.8) scale(1,1.03)">2000</text>
</g>
<g font-size="74.5" text-anchor="middle">
<text transform="translate(400.2,1610.8) scale(1,1.035)">0.00</text>
<text transform="translate(886.0,1610.8) scale(1,1.035)">0.25</text>
<text transform="translate(1371.9,1610.8) scale(1,1.035)">0.50</text>
<text transform="translate(1857.8,1610.8) scale(1,1.035)">0.75</text>
<text transform="translate(2343.6,1610.8) scale(1,1.035)">1.00</text>
</g>
<line x1="498.5" y1="200.2" x2="650" y2="200.2" stroke="#ff0000" stroke-width="9"/>
<rect x="561.0" y="187.9" width="24.5" height="24.5" fill="#ff0000"/>
<text transform="translate(665.5,221.9) scale(1,1.035)" font-size="89"><tspan letter-spacing="1.3">CAP7</tspan><tspan font-size="62" stroke="#000" stroke-width="3.2" dx="2.5" dy="-11.3">−</tspan><tspan dx="2" dy="11.3">23</tspan></text>
<line x1="498.5" y1="350.2" x2="650" y2="350.2" stroke="#ff6400" stroke-width="9"/>
<circle cx="573.3" cy="350.2" r="12.2" fill="#ff6400"/>
<text transform="translate(669.0,371.9) scale(1,1.035)" font-size="89"><tspan letter-spacing="1.3">CAP7</tspan><tspan font-size="62" stroke="#000" stroke-width="3.2" dx="2.5" dy="-11.3">−</tspan><tspan dx="2" dy="11.3">25</tspan></text>
<line x1="498.5" y1="500.2" x2="650" y2="500.2" stroke="#ffee00" stroke-width="9"/>
<polygon points="573.3,481.2 588.3,509.7 558.3,509.7" fill="#ffee00"/>
<text transform="translate(669.0,521.9) scale(1,1.035)" font-size="89"><tspan letter-spacing="1.3">CAP7</tspan><tspan font-size="62" stroke="#000" stroke-width="3.2" dx="2.5" dy="-11.3">−</tspan><tspan dx="2" dy="11.3">27</tspan></text>
<line x1="498.5" y1="650.2" x2="650" y2="650.2" stroke="#00f800" stroke-width="9"/>
<polygon points="573.3,669.2 588.3,640.7 558.3,640.7" fill="#00f800"/>
<text transform="translate(669.0,671.9) scale(1,1.035)" font-size="89"><tspan letter-spacing="1.3">CAP7</tspan><tspan font-size="62" stroke="#000" stroke-width="3.2" dx="2.5" dy="-11.3">−</tspan><tspan dx="2" dy="11.3">30</tspan></text>
<line x1="498.5" y1="800.2" x2="650" y2="800.2" stroke="#0078ff" stroke-width="9"/>
<polygon points="573.3,782.2 588.3,800.2 573.3,818.2 558.3,800.2" fill="#0078ff"/>
<text transform="translate(669.0,821.9) scale(1,1.035)" font-size="89"><tspan letter-spacing="1.3">CAP7</tspan><tspan font-size="62" stroke="#000" stroke-width="3.2" dx="2.5" dy="-11.3">−</tspan><tspan dx="2" dy="11.3">32</tspan></text>
<text transform="translate(135.5,1403) rotate(-90)" font-size="84.5" dx="0 -2.5 0 0 0 0 0 0 0 0 3">Quantity adsorbed/<tspan font-weight="normal" dx="-2.5">(</tspan><tspan dx="2.5">cm</tspan><tspan font-size="50" dy="-50" dx="-1.5">3</tspan><tspan dy="50" dx="3.6">·</tspan><tspan dx="-1.8">g</tspan><tspan font-size="50" dy="-50" dx="0">-</tspan><tspan font-size="50" dx="-3.6">1</tspan><tspan dy="50" dx="5.1" font-weight="normal">)</tspan></text>
<text x="1270.5" y="1742" font-size="103" font-style="italic">P·P<tspan font-size="62" dy="43" dx="-3">0</tspan><tspan font-size="64" dy="-102" dx="-3.5">-1</tspan></text>
</g>
</g>
</svg>
</body>
</html>
